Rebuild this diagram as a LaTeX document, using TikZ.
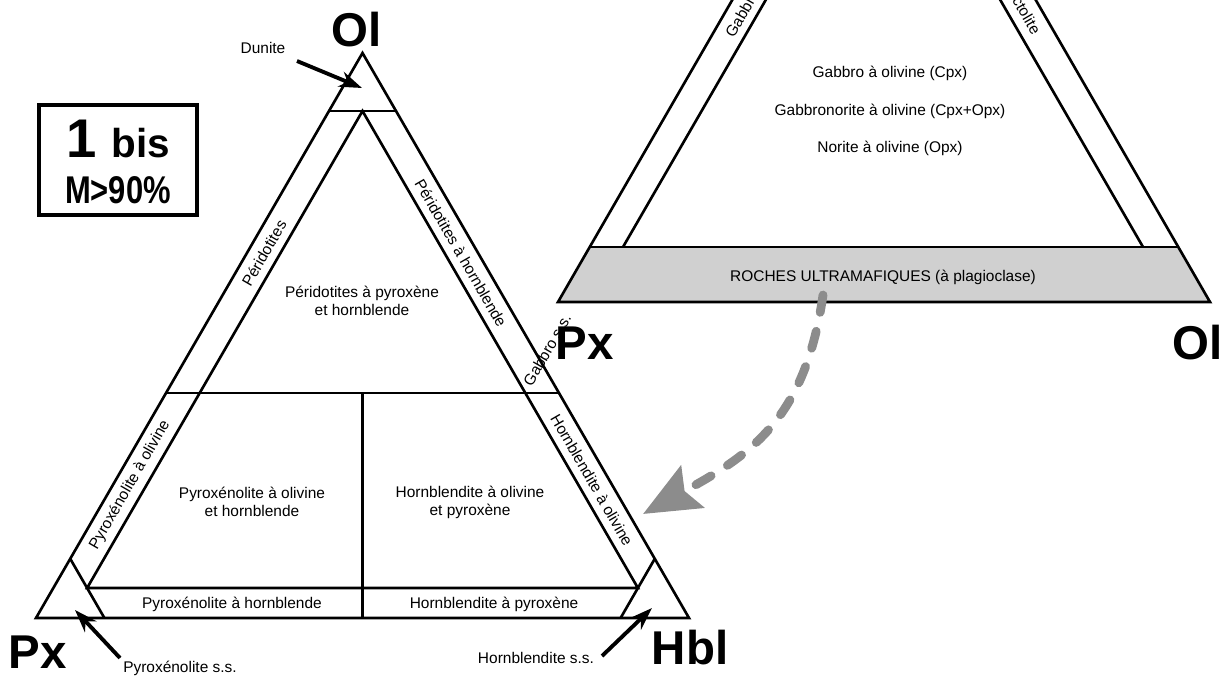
\documentclass[tikz,border=0pt]{standalone}
\usepackage{fontspec}
\setmainfont{Liberation Sans}
\usetikzlibrary{arrows.meta, calc}
\definecolor{bandgray}{RGB}{208,208,208}
\definecolor{arrowgray}{RGB}{140,140,140}

\begin{document}
\begin{tikzpicture}[
    x=0.02cm, y=-0.02cm,
    edge/.style={line width=1.5pt, line join=miter},
    txt/.style={font=\fontsize{8.8}{10.2}\selectfont, align=center, inner sep=0pt},
    pole/.style={font=\fontsize{27}{30}\selectfont\bfseries, inner sep=0pt},
    pointer/.style={-{Stealth[length=13pt, width=9pt]}, line width=2.2pt},
    bigarrow/.style={-{Stealth[length=32pt, width=27pt, inset=5pt]}, line width=5pt, arrowgray, dash pattern=on 10pt off 11pt, line cap=round}
]

\useasboundingbox (0,0) rectangle (1229,679);

% Right diagram (cut by the page)
\begin{scope}
\clip (0,0) rectangle (1229,679);
\coordinate (pxr) at (558,302);
\coordinate (olr) at (1210,302);
\coordinate (plr) at (884,-263);
\coordinate (bandL) at (590,247);
\coordinate (bandR) at (1178,247);
\coordinate (inrL) at (623,247);
\coordinate (inrR) at (1143,247);
\coordinate (inrT) at (883,-203);
\fill[bandgray] (pxr) -- (olr) -- (bandR) -- (bandL) -- cycle;
\draw[edge] (pxr) -- (plr) -- (olr) -- cycle;
\draw[edge] (bandL) -- (bandR);
\draw[edge] (inrL) -- (inrT) -- (inrR);
\node[txt, rotate=60, anchor=west] (gab) at (729,36) {Gabbro};
\node[txt, rotate=-60, anchor=east] (troc) at (1037,33) {Troctolite};
\end{scope}
\node[txt] (gabol) at (890,73) {Gabbro à olivine (Cpx)};
\node[txt] (gabnor) at (890,111) {Gabbronorite à olivine (Cpx+Opx)};
\node[txt] (norol) at (890,148) {Norite à olivine (Opx)};
\node[txt] (ultra) at (883,277) {ROCHES ULTRAMAFIQUES (à plagioclase)};
\node[pole] (pxlab2) at (585,343) {Px};
\node[pole] (ollab2) at (1198,343) {Ol};

% Left diagram
\coordinate (ol) at (362.5,53);
\coordinate (px) at (36,618);
\coordinate (hbl) at (689,618);
\coordinate (dunL) at (328.7,111);
\coordinate (dunR) at (396.3,111);
\coordinate (inT) at (362.5,111);
\coordinate (inL) at (87.1,588);
\coordinate (inR) at (637.9,588);
\coordinate (pxcA) at (70.2,558.7);
\coordinate (pxcB) at (104.4,618);
\coordinate (hblcA) at (654.8,558.7);
\coordinate (hblcB) at (620.6,618);
\coordinate (midL) at (165.9,393);
\coordinate (midR) at (559.1,393);
\coordinate (vertT) at (362.5,393);
\coordinate (vertB) at (362.5,618);

\draw[edge] (ol) -- (px) -- (hbl) -- cycle;
\draw[edge] (dunL) -- (dunR);
\draw[edge] (inT) -- (inL) -- (inR) -- cycle;
\draw[edge] (pxcA) -- (pxcB);
\draw[edge] (hblcA) -- (hblcB);
\draw[edge] (midL) -- (midR);
\draw[edge] (vertT) -- (vertB);

% Field names
\node[txt] (perpx) at (362,301) {Péridotites à pyroxène\\et hornblende};
\node[txt] (pyrol) at (252,502) {Pyroxénolite à olivine\\et hornblende};
\node[txt] (hblol) at (470,502) {Hornblendite à olivine\\et pyroxène};
\node[txt] (pyrhbl) at (232,604) {Pyroxénolite à hornblende};
\node[txt] (hblpyr) at (494,604) {Hornblendite à pyroxène};
\node[txt, rotate=60] (perid) at (264,253) {Péridotites};
\node[txt, rotate=-60] (perhbl) at (461,253) {Péridotites à hornblende};
\node[txt, rotate=60] (pyrolb) at (130,485) {Pyroxénolite à olivine};
\node[txt, rotate=-60] (hblolb) at (592,480) {Hornblendite à olivine};
\node[txt, rotate=60] (gabss) at (547,350) {Gabbro s.s.};

% Poles and corner names
\node[pole] (ollab) at (357,30) {Ol};
\node[pole] (pxlab) at (38,652) {Px};
\node[pole] (hbllab) at (690,648) {Hbl};
\node[txt] (dun) at (263,48) {Dunite};
\node[txt] (pxss) at (180,668) {Pyroxénolite s.s.};
\node[txt] (hblss) at (536,658) {Hornblendite s.s.};
\coordinate (dunS) at (297,61);
\coordinate (dunE) at (362,88);
\coordinate (pxS) at (120,658);
\coordinate (pxE) at (75,610);
\coordinate (hblS) at (602,656);
\coordinate (hblE) at (652,608);
\draw[pointer] (dunS) -- (dunE);
\draw[pointer] (pxS) -- (pxE);
\draw[pointer] (hblS) -- (hblE);

% Box
\node[draw, line width=2.3pt, minimum width=3.16cm, minimum height=2.2cm] (box) at (118,160) {};
\node[inner sep=0pt, anchor=base] (boxnum) at (118,157) {\bfseries\fontsize{31}{32}\selectfont 1 \fontsize{23}{24}\selectfont bis};
\node[inner sep=0pt, anchor=base] (boxm) at (118,203) {\scalebox{0.8}[1]{\bfseries\fontsize{22}{24}\selectfont M>90\%}};

% Arrow from ultramafic band
\coordinate (ultS) at (823,295);
\coordinate (ultE) at (643,514);
\draw[bigarrow] (ultS) .. controls (805,420) and (750,455) .. (ultE);

\end{tikzpicture}
\end{document}
